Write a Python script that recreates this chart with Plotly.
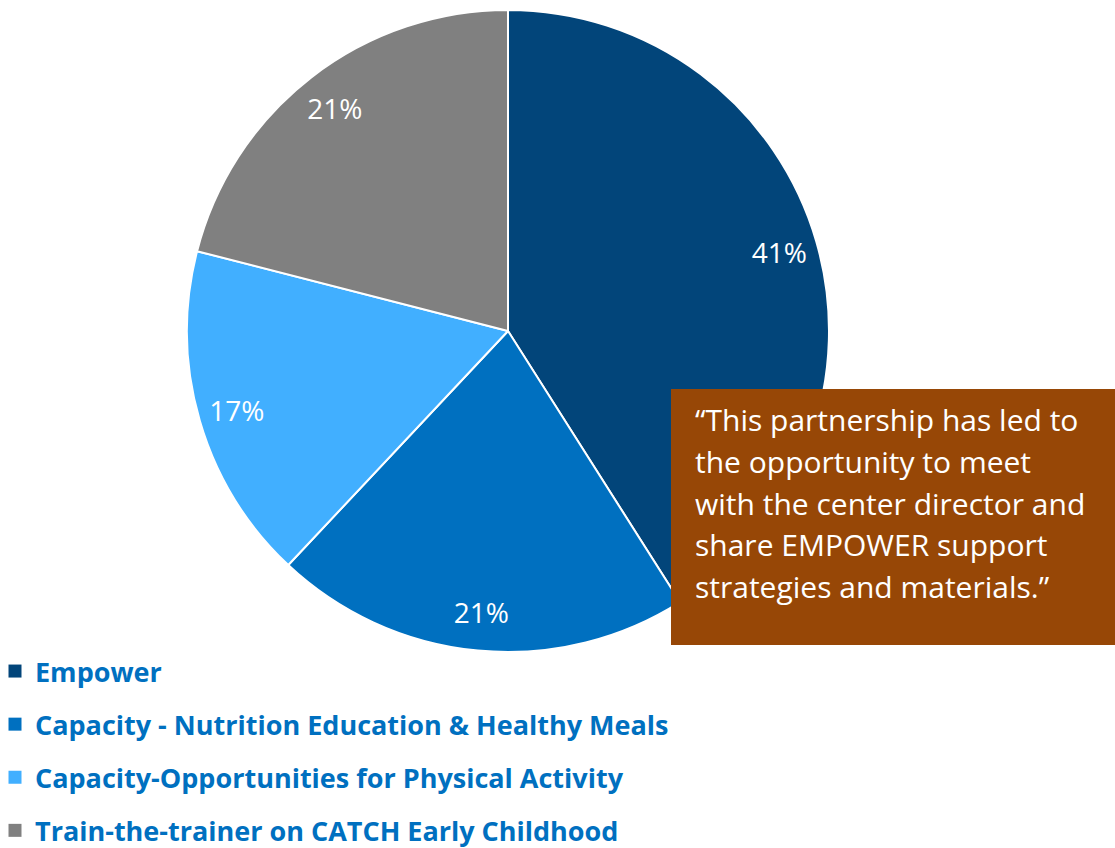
import plotly.graph_objects as go

categories = ["Empower", "Capacity - Nutrition Education & Healthy Meals",
              "Capacity-Opportunities for Physical Activity",
              "Train-the-trainer on CATCH Early Childhood"]
values = [41, 21, 17, 21]
colors = ["#02457A", "#0070C0", "#41AFFF", "#808080"]
quote_lines = ["\u201cThis partnership has led to",
               "the opportunity to meet",
               "with the center director and",
               "share EMPOWER support",
               "strategies and materials.\u201d"]

W, H = 1115, 848
pie_domain = dict(x=[187 / W, 829 / W], y=[1 - 652 / H, 1 - 10 / H])

fig = go.Figure()
# filled slices
fig.add_trace(go.Pie(
    labels=categories, values=values, sort=False, direction="clockwise", rotation=0,
    marker=dict(colors=colors, line=dict(color="white", width=2)),
    textinfo="none", showlegend=False, hoverinfo="label+percent",
    domain=pie_domain,
))
# transparent ring carrying the data labels near the rim
fig.add_trace(go.Pie(
    labels=categories, values=values, sort=False, direction="clockwise", rotation=0,
    hole=0.76, marker=dict(colors=["rgba(0,0,0,0)"] * len(values), line=dict(width=0)),
    texttemplate="%{value}%", textposition="inside", insidetextorientation="horizontal",
    textfont=dict(family="Open Sans", size=28, color="white"),
    showlegend=False, hoverinfo="skip",
    domain=pie_domain,
))
for i, (c, col) in enumerate(zip(categories, colors)):
    fig.add_trace(go.Scatter(
        x=[None], y=[None], mode="markers", name=c, legendgroup=f"g{i}",
        marker=dict(symbol="square", size=13, color=col),
        showlegend=True,
    ))

fig.add_shape(type="rect", xref="paper", yref="paper",
              x0=671 / W, x1=1, y0=1 - 645 / H, y1=1 - 389 / H,
              fillcolor="#974706", line=dict(width=0), layer="above")
line_y0, line_step = 420, 41.5
for k, line in enumerate(quote_lines):
    fig.add_annotation(xref="paper", yref="paper", x=693 / W, y=1 - (line_y0 + k * line_step) / H,
                       xanchor="left", yanchor="middle", align="left", showarrow=False,
                       text=line, font=dict(family="Open Sans", size=30, color="white"))

fig.update_layout(
    width=W, height=H, margin=dict(l=0, r=0, t=0, b=0, autoexpand=False),
    paper_bgcolor="white", plot_bgcolor="white",
    xaxis=dict(visible=False), yaxis=dict(visible=False),
    legend=dict(xref="paper", yref="paper", x=-5 / W, y=1 - 647 / H,
                xanchor="left", yanchor="top",
                orientation="v", tracegroupgap=15, bgcolor="rgba(0,0,0,0)",
                font=dict(family="Open Sans", size=27, color="#0070C0", weight="bold")),
)
fig.write_html("out.html", config={"displayModeBar": False},
               post_script="document.body.style.margin='0';document.body.style.overflow='hidden';")
